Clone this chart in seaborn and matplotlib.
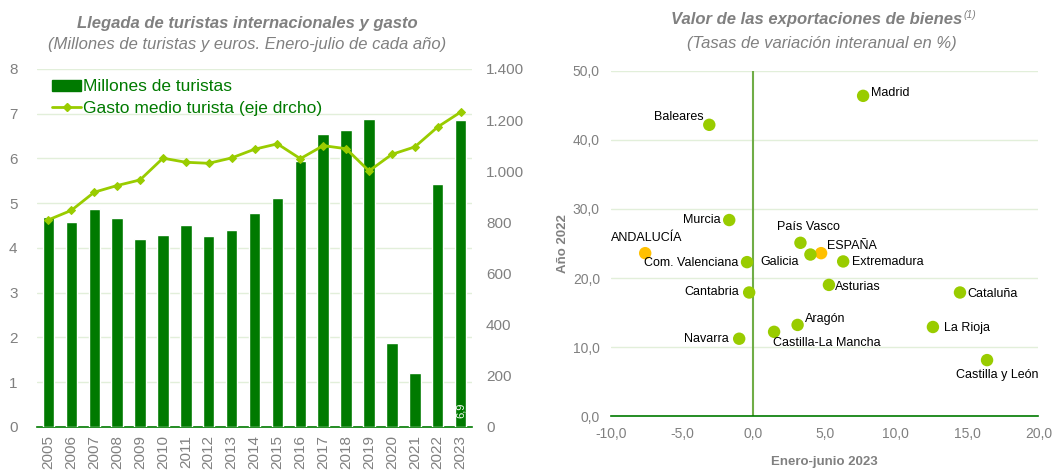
import numpy as np
import pandas as pd
import seaborn as sns
import matplotlib.pyplot as plt
from matplotlib.lines import Line2D
from matplotlib.patches import Patch
from matplotlib.ticker import FuncFormatter

sns.set_style("white")
plt.rcParams['font.family'] = ['Liberation Sans', 'DejaVu Sans']

# --- data: left chart ---
years = [str(y) for y in range(2005, 2024)]
turistas = [4.69, 4.57, 4.86, 4.67, 4.20, 4.28, 4.51, 4.26, 4.40, 4.78,
            5.11, 5.94, 6.55, 6.63, 6.88, 1.88, 1.21, 5.43, 6.85]
gasto = [810, 847, 918, 944, 966, 1051, 1035, 1031, 1052, 1086,
         1107, 1049, 1100, 1088, 1001, 1066, 1095, 1173, 1231]

# --- data: right chart ---
regiones = ['Madrid', 'Baleares', 'Murcia', 'País Vasco', 'ANDALUCÍA', 'ESPAÑA',
            'Galicia', 'Com. Valenciana', 'Extremadura', 'Asturias', 'Cantabria',
            'Cataluña', 'Aragón', 'La Rioja', 'Castilla-La Mancha', 'Navarra',
            'Castilla y León']
ene_jun_2023 = [7.7, -3.1, -1.7, 3.3, -7.6, 4.75, 4.0, -0.45, 6.3, 5.3, -0.3,
                14.5, 3.1, 12.6, 1.45, -1.0, 16.4]
anio_2022 = [46.4, 42.2, 28.4, 25.1, 23.6, 23.6, 23.4, 22.3, 22.4, 19.0, 17.9,
             17.9, 13.2, 12.9, 12.2, 11.2, 8.1]
destacado = ['ANDALUCÍA', 'ESPAÑA']

# label placement (pixel offsets, alignment)
lab_pos = {
    'Madrid': (8, 3, 'left'), 'Baleares': (-6, 8, 'right'), 'Murcia': (-9, 0, 'right'),
    'País Vasco': (8, 16, 'center'), 'ANDALUCÍA': (2, 15, 'center'),
    'ESPAÑA': (6, 7, 'left'), 'Galicia': (-12, -7, 'right'),
    'Com. Valenciana': (-9, -1, 'right'), 'Extremadura': (9, -1, 'left'),
    'Asturias': (6, -2, 'left'), 'Cantabria': (-10, 0, 'right'),
    'Cataluña': (7, -2, 'left'), 'Aragón': (7, 6, 'left'), 'La Rioja': (11, -1, 'left'),
    'Castilla-La Mancha': (-1, -11, 'left'), 'Navarra': (-10, 0, 'right'),
    'Castilla y León': (10, -15, 'center'),
}

GREEN = '#007A00'
LIME = '#99CC00'
ORANGE = '#FFC000'
GRAY = '#808080'
GRID = '#E2EFDA'

fig = plt.figure(figsize=(10.52, 4.73), dpi=100)

# ---------------- left chart ----------------
ax = fig.add_axes([0.0352, 0.0973, 0.4135, 0.757])
df = pd.DataFrame({'year': years, 'turistas': turistas, 'gasto': gasto})
sns.barplot(data=df, x='year', y='turistas', ax=ax, color=GREEN, width=0.5,
            saturation=1, zorder=3)
ax.set_ylim(0, 8)
ax.set_xlim(-0.5, len(years) - 0.5)
ax.set_yticks(range(0, 9))
ax.grid(axis='y', color=GRID, lw=1, zorder=0)
ax.set_axisbelow(True)
ax.set_xlabel('')
ax.set_ylabel('')
for s in ['top', 'left', 'right']:
    ax.spines[s].set_visible(False)
ax.spines['bottom'].set_color(GREEN)
ax.spines['bottom'].set_linewidth(1.2)
ax.tick_params(axis='x', rotation=90, labelsize=11, labelcolor=GRAY, length=0, pad=6)
ax.tick_params(axis='y', labelsize=11, labelcolor=GRAY, length=0, pad=14)
ax.text(len(years) - 1, 0.2, '6,9', rotation=90, color='white', fontsize=8,
        ha='center', va='bottom', zorder=5)

ax2 = ax.twinx()
sns.lineplot(x=np.arange(len(years)), y=gasto, ax=ax2, color=LIME, lw=2,
             marker='D', markersize=4, markeredgecolor=LIME)
ax2.set_ylim(0, 1400)
ax2.set_yticks(range(0, 1401, 200))
ax2.yaxis.set_major_formatter(FuncFormatter(lambda v, p: f'{int(v):,}'.replace(',', '.')))
ax2.tick_params(axis='y', labelsize=11, labelcolor=GRAY, length=0, pad=10)
for s in ['top', 'left', 'right', 'bottom']:
    ax2.spines[s].set_visible(False)

handles = [Patch(color=GREEN),
           Line2D([0], [0], color=LIME, lw=2, marker='D', markersize=4)]
ax.legend(handles, ['Millones de turistas', 'Gasto medio turista (eje drcho)'],
          loc='upper left', bbox_to_anchor=(0.01, 1.0), frameon=False, fontsize=12.5,
          labelcolor=GREEN, handlelength=1.7, handleheight=0.6, handletextpad=0.1,
          borderaxespad=0.2, labelspacing=0.4)

fig.text(0.235, 0.951, 'Llegada de turistas internacionales y gasto', ha='center',
         va='center', fontsize=12, fontweight='bold', style='italic', color=GRAY)
fig.text(0.235, 0.905, '(Millones de turistas y euros. Enero-julio de cada año)',
         ha='center', va='center', fontsize=12, style='italic', color=GRAY)

# ---------------- right chart ----------------
bx = fig.add_axes([0.5808, 0.1205, 0.4062, 0.7294])
sdf = pd.DataFrame({'region': regiones, 'x': ene_jun_2023, 'y': anio_2022})
sdf['grupo'] = np.where(sdf['region'].isin(destacado), 'd', 'n')
sns.scatterplot(data=sdf, x='x', y='y', hue='grupo', palette={'n': LIME, 'd': ORANGE},
                s=80, edgecolor='none', legend=False, ax=bx, zorder=4)
bx.set_xlim(-10, 20)
bx.set_ylim(0, 50)
bx.set_xticks(range(-10, 21, 5))
bx.set_yticks(range(0, 51, 10))
fmt = FuncFormatter(lambda v, p: f'{v:.1f}'.replace('.', ','))
bx.xaxis.set_major_formatter(fmt)
bx.yaxis.set_major_formatter(fmt)
bx.grid(axis='y', color=GRID, lw=1)
bx.set_axisbelow(True)
bx.axvline(0, color='#70AD47', lw=1.5, zorder=2)
for s in ['top', 'left', 'right']:
    bx.spines[s].set_visible(False)
bx.spines['bottom'].set_color(GREEN)
bx.spines['bottom'].set_linewidth(1.2)
bx.tick_params(labelsize=10, labelcolor=GRAY, length=0)
bx.tick_params(axis='y', pad=8)
bx.tick_params(axis='x', pad=8)
bx.set_xlabel('Enero-junio 2023', fontsize=9.5, fontweight='bold', color=GRAY, labelpad=11)
bx.set_ylabel('Año 2022', fontsize=9.5, fontweight='bold', color=GRAY, labelpad=3)

for r, xv, yv in zip(regiones, ene_jun_2023, anio_2022):
    dx, dy, ha = lab_pos[r]
    bx.annotate(r, (xv, yv), xytext=(dx, dy), textcoords='offset pixels', ha=ha,
                va='center', fontsize=9, color='black', zorder=5)

fig.text(0.776, 0.958, 'Valor de las exportaciones de bienes', ha='center', va='center',
         fontsize=12, fontweight='bold', style='italic', color=GRAY)
fig.text(0.9155, 0.968, '(1)', ha='left', va='center', fontsize=7.5, style='italic',
         color=GRAY)
fig.text(0.781, 0.909, '(Tasas de variación interanual en %)', ha='center',
         va='center', fontsize=12, style='italic', color=GRAY)

fig.savefig('out.png', dpi=100)
